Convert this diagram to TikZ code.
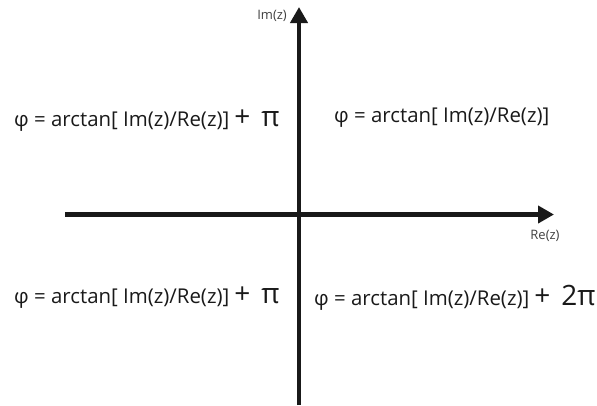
\documentclass[tikz,border=0pt]{standalone}
\usepackage{fontspec}
\setmainfont{Open Sans}
\usetikzlibrary{arrows.meta}
\tikzset{
  axis/.style={line width=4.5pt, color=black!90, -{Triangle[length=16pt,width=17pt]}},
  axlabel/.style={font=\fontsize{13}{14}\selectfont, text=black!75, inner sep=0pt},
  formula/.style={font=\fontsize{20.4}{22}\selectfont, text=black!90, inner sep=0pt, anchor=west},
}
% enlarged "+ term" that follows each arctan expression
\newcommand{\bigterm}[1]{\hspace{5pt}{\fontsize{28}{29}\selectfont +\hspace{11pt}#1}}
\begin{document}
\begin{tikzpicture}[x=1pt,y=-1pt]
  \useasboundingbox (0,0) rectangle (597,405);
  % axes
  \coordinate (xs) at (65,214.5);
  \coordinate (xe) at (554,214.5);
  \coordinate (ys) at (299,405);
  \coordinate (ye) at (299,7);
  \draw[axis] (xs) -- (xe);
  \draw[axis] (ys) -- (ye);
  \node[axlabel, anchor=east] (im) at (287,16) {Im(z)};
  \node[axlabel] (re) at (545,236) {Re(z)};
  % quadrant formulas
  \node[formula] (q2) at (14,121) {φ = arctan[ Im(z)/Re(z)]\bigterm{π}};
  \node[formula] (q1) at (334,118) {φ = arctan[ Im(z)/Re(z)]};
  \node[formula] (q3) at (14,298) {φ = arctan[ Im(z)/Re(z)]\bigterm{π}};
  \node[formula] (q4) at (314,298) {φ = arctan[ Im(z)/Re(z)]\bigterm{2π}};
\end{tikzpicture}
\end{document}
